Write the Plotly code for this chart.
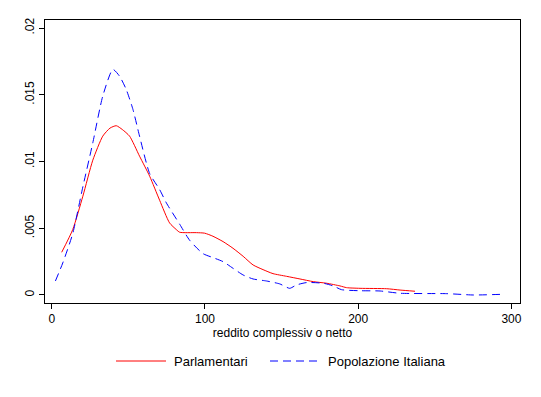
import plotly.graph_objects as go

# Parlamentari (red, solid)
parl_x = [6.5, 13.7, 20.3, 26.8, 33.3, 38, 42.1, 46, 50.8, 57.3, 63.9, 70.4, 76.9, 81.3, 83.5,
          94.4, 99.8, 105.2, 111.8, 118.3, 124.9, 131.4, 137.9, 144.4, 153.2, 162, 170.7,
          179.4, 188.1, 192.4, 201.2, 218.6, 227.3, 237.1]
parl_y = [0.0032, 0.0049, 0.0074, 0.0101, 0.0119, 0.0125, 0.01268, 0.0124, 0.0119, 0.0104,
          0.0089, 0.0071, 0.0054, 0.0049, 0.0047, 0.00467, 0.00463, 0.0044, 0.0040, 0.0035,
          0.0029, 0.00225, 0.0019, 0.0016, 0.0014, 0.0012, 0.0010, 0.00088, 0.00068,
          0.00055, 0.0005, 0.00047, 0.00037, 0.00028]

# Popolazione Italiana (blue, dashed)
pop_x = [2.4, 7.2, 13.7, 20.3, 26.8, 33.3, 39.9, 44.2, 48.6, 53, 57.3, 63.9, 70.4, 74.8, 83.5,
         90, 98.7, 105.2, 111.8, 118.3, 124.9, 131.4, 140.1, 148.8, 155.3, 159.7, 166.3,
         177.2, 183.7, 189.1, 201.2, 214.3, 227.3, 257.8, 275.2, 293.7]
pop_y = [0.00105, 0.0024, 0.0046, 0.0081, 0.0114, 0.0149, 0.0169, 0.0164, 0.0154, 0.0139,
         0.0119, 0.0091, 0.0079, 0.0069, 0.0053, 0.0041, 0.0031, 0.0028, 0.0025, 0.0020,
         0.0015, 0.0012, 0.00105, 0.00083, 0.0005, 0.00075, 0.00093, 0.00088, 0.00068,
         0.0004, 0.00032, 0.0003, 0.00013, 0.0001, 0.0, 0.00005]

x_ticks = [0, 100, 200, 300]
y_ticks = [0, 0.005, 0.01, 0.015, 0.02]
y_tick_labels = ["0", ".005", ".01", ".015", ".02"]
x_title = "reddito complessiv o netto"
series_names = ["Parlamentari", "Popolazione Italiana"]

FONT = "Liberation Sans, Arial, sans-serif"

fig = go.Figure()
fig.add_trace(go.Scatter(x=parl_x, y=parl_y, mode="lines", name=series_names[0],
                         line=dict(color="#ff0000", width=1, shape="spline", smoothing=0.6),
                         showlegend=False))
fig.add_trace(go.Scatter(x=pop_x, y=pop_y, mode="lines", name=series_names[1],
                         line=dict(color="#0000ff", width=1, dash="8px,5px", shape="spline",
                                   smoothing=0.6),
                         showlegend=False))

# manual legend (Stata style); paper coords relative to plot area 475 x 283 px
PW, PH = 475.0, 283.0
leg_y = -(361 - 303) / PH
fig.add_shape(type="line", xref="paper", yref="paper", x0=(116 - 45) / PW, x1=(166 - 45) / PW,
              y0=leg_y, y1=leg_y, line=dict(color="#ff0000", width=1))
fig.add_shape(type="line", xref="paper", yref="paper", x0=(270 - 45) / PW, x1=(320 - 45) / PW,
              y0=leg_y, y1=leg_y, line=dict(color="#0000ff", width=1, dash="8px,5px"))
fig.add_annotation(xref="paper", yref="paper", x=(172 - 45) / PW, y=leg_y, text=series_names[0],
                   showarrow=False, xanchor="left", yanchor="middle", font=dict(size=13))
fig.add_annotation(xref="paper", yref="paper", x=(326 - 45) / PW, y=leg_y, text=series_names[1],
                   showarrow=False, xanchor="left", yanchor="middle", font=dict(size=13))

# page body has an 8px default margin: compensate so the plot box lands at (45,20)-(520,303)
fig.update_layout(
    width=541, height=397,
    margin=dict(l=37, r=29, t=12, b=102, autoexpand=False),
    paper_bgcolor="white", plot_bgcolor="white",
    font=dict(family=FONT, size=12, color="black"),
    xaxis=dict(range=[-4.4, 305.6], tickvals=x_ticks, ticks="outside", ticklen=5,
               tickcolor="black", showline=True, linecolor="black", linewidth=1, mirror=True,
               showgrid=False, zeroline=False, tickfont=dict(size=12),
               title=dict(text=x_title, standoff=0, font=dict(size=12))),
    yaxis=dict(range=[-0.0006, 0.0206], tickvals=y_ticks, ticktext=y_tick_labels,
               tickangle=-90, ticks="outside", ticklen=5, tickcolor="black",
               showline=True, linecolor="black", linewidth=1, mirror=True,
               showgrid=False, zeroline=False, tickfont=dict(size=12)),
)

fig.write_html("out.html")
